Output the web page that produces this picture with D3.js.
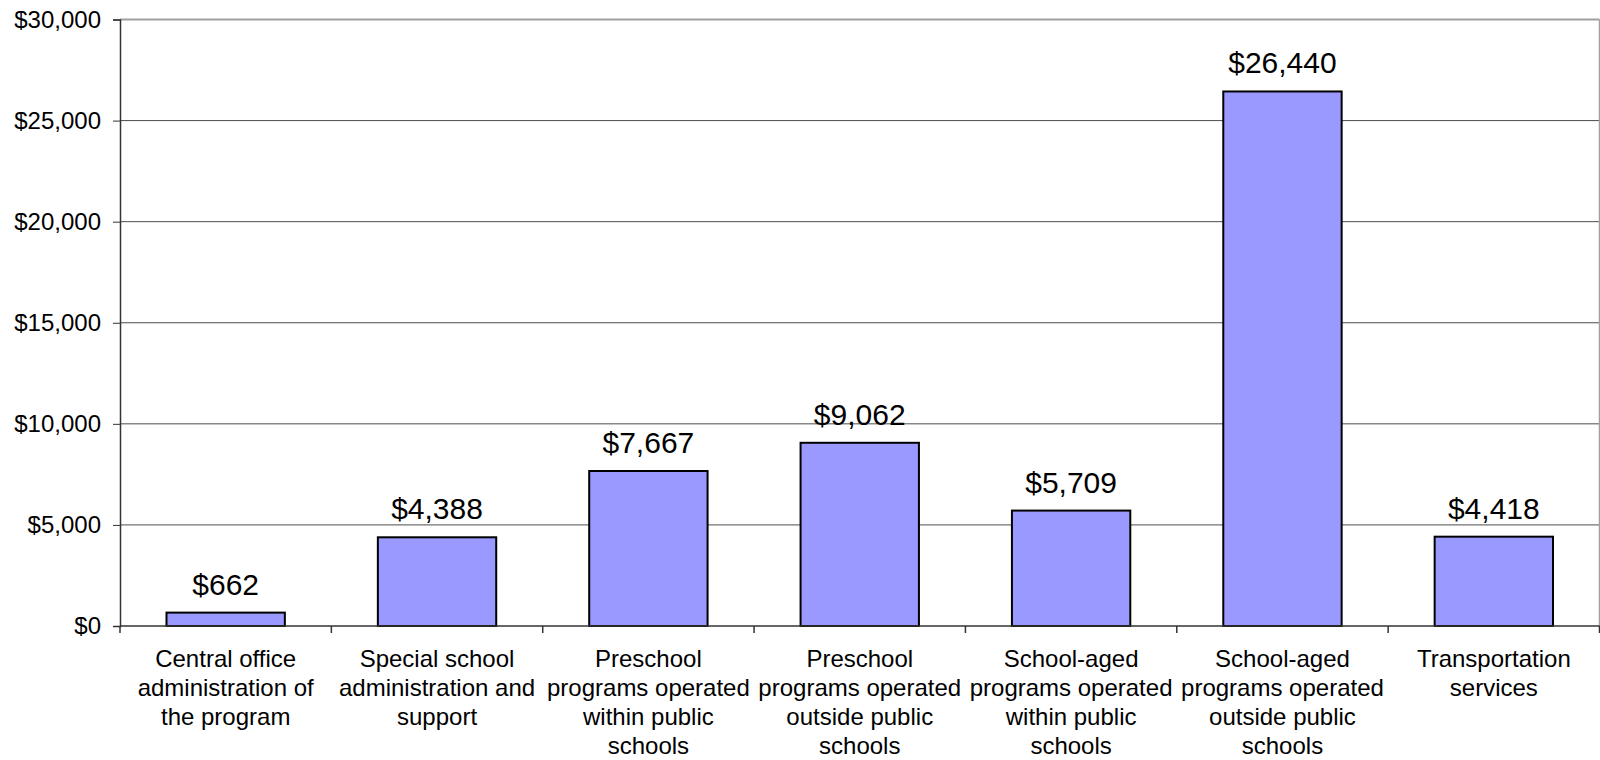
<!DOCTYPE html>
<html>
<head>
<meta charset="utf-8">
<script src="https://cdn.jsdelivr.net/npm/d3@7"></script>
<style>
  html, body { margin: 0; padding: 0; background: #ffffff; }
  svg { display: block; font-family: "Liberation Sans", Arial, sans-serif; }
</style>
</head>
<body>
<svg id="chart" width="1600" height="760"></svg>
<script>
// Cost per category (dollars)
const categories = [
  "Central office administration of the program",
  "Special school administration and support",
  "Preschool programs operated within public schools",
  "Preschool programs operated outside public schools",
  "School-aged programs operated within public schools",
  "School-aged programs operated outside public schools",
  "Transportation services"
];
// Line breaks for each category label
const categoryLines = [
  ["Central office", "administration of", "the program"],
  ["Special school", "administration and", "support"],
  ["Preschool", "programs operated", "within public", "schools"],
  ["Preschool", "programs operated", "outside public", "schools"],
  ["School-aged", "programs operated", "within public", "schools"],
  ["School-aged", "programs operated", "outside public", "schools"],
  ["Transportation", "services"]
];
const values = [662, 4388, 7667, 9062, 5709, 26440, 4418];
const yTicks = [0, 5000, 10000, 15000, 20000, 25000, 30000];

const plotLeft = 120, plotRight = 1599.5, plotTop = 19.5, plotBottom = 626;
const svg = d3.select("#chart");

const x = d3.scaleBand()
  .domain(categories)
  .range([plotLeft, plotRight])
  .paddingInner(0.44)
  .paddingOuter(0.22);

const y = d3.scaleLinear()
  .domain([0, 30000])
  .range([plotBottom, plotTop]);

const money = v => "$" + d3.format(",")(v);

// horizontal gridlines
svg.append("g")
  .selectAll("line")
  .data(yTicks.filter(t => t > 0 && t < 30000))
  .join("line")
  .attr("x1", plotLeft).attr("x2", plotRight)
  .attr("y1", d => y(d)).attr("y2", d => y(d))
  .attr("stroke", "#4d4d4d").attr("stroke-width", 1);

// plot-area frame (top and right)
svg.append("line")
  .attr("x1", plotLeft).attr("x2", plotRight)
  .attr("y1", y(30000)).attr("y2", y(30000))
  .attr("stroke", "#a0a0a0").attr("stroke-width", 2);
svg.append("line")
  .attr("x1", plotRight).attr("x2", plotRight)
  .attr("y1", y(30000)).attr("y2", plotBottom)
  .attr("stroke", "#a0a0a0").attr("stroke-width", 1.5);

// bars
svg.append("g")
  .selectAll("rect")
  .data(values)
  .join("rect")
  .attr("x", (d, i) => x(categories[i]))
  .attr("y", d => y(d))
  .attr("width", x.bandwidth())
  .attr("height", d => y(0) - y(d))
  .attr("fill", "#9999ff")
  .attr("stroke", "#000")
  .attr("stroke-width", 2);

// value labels
svg.append("g")
  .selectAll("text")
  .data(values)
  .join("text")
  .attr("x", (d, i) => x(categories[i]) + x.bandwidth() / 2)
  .attr("y", d => y(d) - 18)
  .attr("text-anchor", "middle")
  .attr("font-size", 30)
  .attr("fill", "#000")
  .text(d => money(d));

// y axis
const yAxis = d3.axisLeft(y)
  .tickValues(yTicks)
  .tickFormat(money)
  .tickSize(7)
  .tickPadding(12);
const gy = svg.append("g")
  .attr("transform", `translate(${plotLeft},0)`)
  .call(yAxis);
gy.select(".domain").attr("stroke", "#333").attr("stroke-width", 1.5);
gy.selectAll(".tick line").attr("stroke", "#333");
gy.selectAll(".tick text")
  .attr("font-size", 24)
  .attr("fill", "#000")
  .attr("font-family", "Liberation Sans, Arial, sans-serif");

// x axis baseline and boundary ticks
const step = x.step();
const boundaries = d3.range(categories.length + 1).map(i =>
  i === 0 ? plotLeft : (i === categories.length ? plotRight : x(categories[i]) - step * x.paddingInner() / 2));
svg.append("line")
  .attr("x1", plotLeft).attr("x2", plotRight)
  .attr("y1", plotBottom).attr("y2", plotBottom)
  .attr("stroke", "#333").attr("stroke-width", 1.5);
svg.append("g")
  .selectAll("line")
  .data(boundaries)
  .join("line")
  .attr("x1", d => d).attr("x2", d => d)
  .attr("y1", plotBottom).attr("y2", plotBottom + 7)
  .attr("stroke", "#333").attr("stroke-width", 1.5);

// category labels
const lab = svg.append("g")
  .selectAll("text")
  .data(categories)
  .join("text")
  .attr("x", d => x(d) + x.bandwidth() / 2)
  .attr("y", plotBottom + 41)
  .attr("text-anchor", "middle")
  .attr("font-size", 24)
  .attr("fill", "#000");
lab.each(function(d, i) {
  const t = d3.select(this);
  categoryLines[i].forEach((line, j) => {
    t.append("tspan")
      .attr("x", x(d) + x.bandwidth() / 2)
      .attr("dy", j === 0 ? 0 : 29)
      .text(line);
  });
});
</script>
</body>
</html>
